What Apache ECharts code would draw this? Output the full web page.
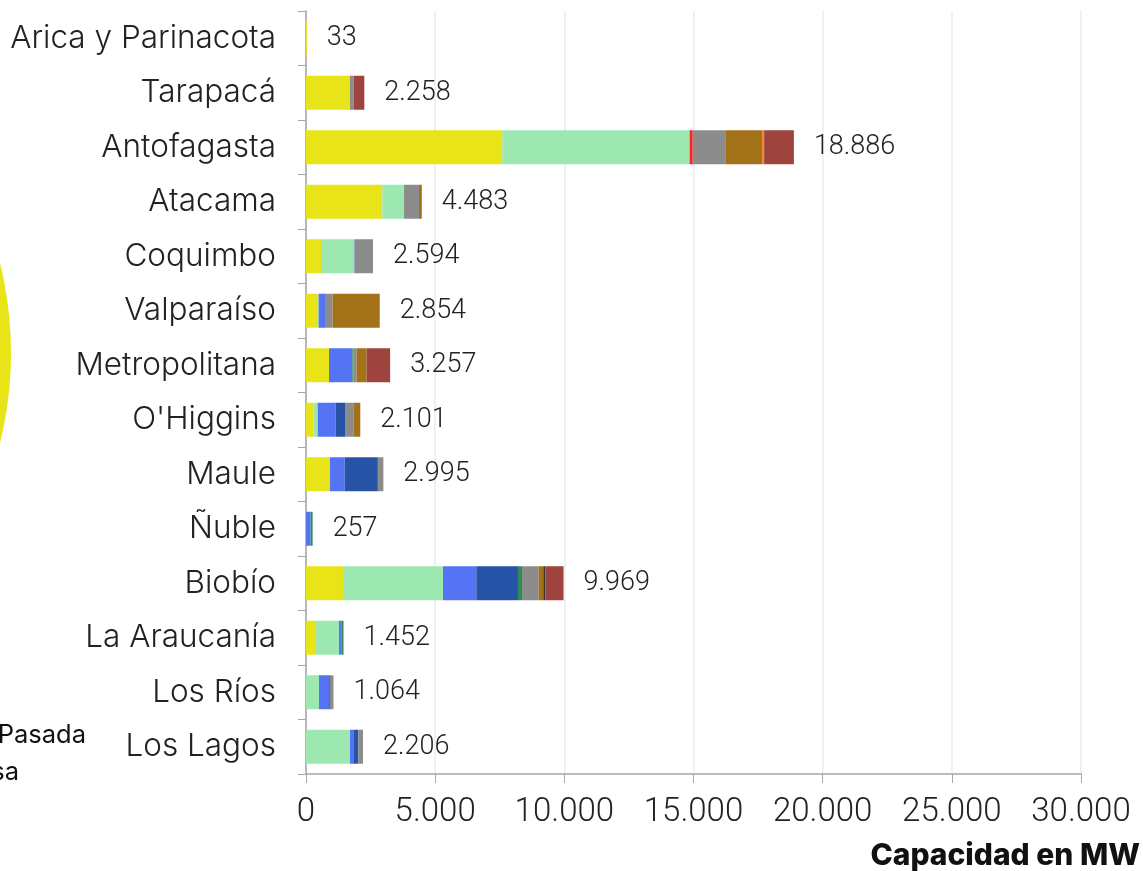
<!DOCTYPE html>
<html>
<head>
<meta charset="utf-8">
<script src="https://cdn.jsdelivr.net/npm/echarts@6/dist/echarts.min.js"></script>
<style>
  html, body { margin: 0; padding: 0; background: #fff; }
  #chart { width: 1143px; height: 871px; }
</style>
</head>
<body>
<div id="chart"></div>
<script>
// Regions, listed north to south
const regions = ['Arica y Parinacota', 'Tarapacá', 'Antofagasta', 'Atacama', 'Coquimbo', 'Valparaíso',
  'Metropolitana', "O'Higgins", 'Maule', 'Ñuble', 'Biobío', 'La Araucanía', 'Los Ríos', 'Los Lagos'];

// Installed capacity by technology (MW)
const solar      = [33, 1700, 7600, 2955, 580, 465, 890, 285, 929, 0, 1432, 348, 0, 0];
const eolica     = [0, 0, 7250, 840, 1280, 25, 0, 168, 0, 0, 3871, 929, 503, 1703];
const pasada     = [0, 0, 0, 0, 20, 245, 903, 697, 568, 180, 1290, 90, 387, 155];
const embalse    = [0, 0, 0, 0, 0, 0, 0, 360, 1251, 0, 1613, 0, 0, 168];
const biomasa    = [0, 0, 0, 0, 0, 0, 50, 0, 39, 77, 155, 85, 40, 0];
const termosolar = [0, 0, 120, 0, 0, 0, 0, 0, 0, 0, 0, 0, 0, 0];
const diesel     = [0, 150, 1260, 580, 714, 295, 115, 323, 208, 0, 645, 0, 134, 180];
const gas        = [0, 0, 1420, 108, 0, 1824, 387, 268, 0, 0, 181, 0, 0, 0];
const geotermia  = [0, 0, 85, 0, 0, 0, 0, 0, 0, 0, 0, 0, 0, 0];
const otros      = [0, 0, 0, 0, 0, 0, 0, 0, 0, 0, 77, 0, 0, 0];
const carbon     = [0, 408, 1151, 0, 0, 0, 912, 0, 0, 0, 705, 0, 0, 0];

// x-axis ticks
const xTicks = [0, 5000, 10000, 15000, 20000, 25000, 30000];

const techs = [
  { name: 'Solar', data: solar, color: '#E8E418' },
  { name: 'Eólica', data: eolica, color: '#9DE8B0' },
  { name: 'Hidráulica de Pasada', data: pasada, color: '#5574F4' },
  { name: 'Hidráulica de Embalse', data: embalse, color: '#2753A6' },
  { name: 'Biomasa', data: biomasa, color: '#2E8B5A' },
  { name: 'Termosolar', data: termosolar, color: '#FF2020' },
  { name: 'Diésel', data: diesel, color: '#8C8C8C' },
  { name: 'Gas Natural', data: gas, color: '#A37118' },
  { name: 'Geotermia', data: geotermia, color: '#F5892A' },
  { name: 'Otros', data: otros, color: '#333333' },
  { name: 'Carbón', data: carbon, color: '#9E433D' }
];

const totals = regions.map((_, i) => techs.reduce((s, t) => s + t.data[i], 0));

const fmt = v => String(v).replace(/\B(?=(\d{3})+(?!\d))/g, '.');

const BAR_W = 34;

const series = techs.map(t => ({
  name: t.name,
  type: 'bar',
  stack: 'cap',
  barWidth: BAR_W,
  data: t.data,
  itemStyle: { color: t.color },
  silent: true
}));

// Invisible overlay carrying the regional total label
series.push({
  name: 'Total',
  type: 'bar',
  barWidth: BAR_W,
  barGap: '-100%',
  data: totals,
  itemStyle: { color: 'rgba(0,0,0,0)' },
  silent: true,
  z: 1,
  label: {
    show: true,
    position: 'right',
    distance: 20,
    formatter: p => fmt(p.value),
    fontFamily: 'Roboto',
    fontWeight: 300,
    fontSize: 27,
    color: '#222'
  }
});

const chart = echarts.init(document.getElementById('chart'));
chart.setOption({
  animation: false,
  backgroundColor: '#fff',
  grid: { left: 306, right: 62, top: 11, bottom: 97, containLabel: false },
  xAxis: {
    type: 'value',
    min: xTicks[0],
    max: xTicks[xTicks.length - 1],
    interval: 5000,
    axisLine: { show: true, lineStyle: { color: '#A6A6A6', width: 1.5 } },
    axisTick: { show: true, length: 9, lineStyle: { color: '#A6A6A6' } },
    splitLine: { show: true, lineStyle: { color: '#EBEBEB', width: 1.5 } },
    axisLabel: {
      margin: 22,
      fontFamily: 'Roboto',
      fontWeight: 300,
      fontSize: 33,
      color: '#222',
      formatter: v => fmt(v)
    }
  },
  yAxis: {
    type: 'category',
    data: regions,
    inverse: true,
    axisLine: { show: true, lineStyle: { color: '#A6A6A6', width: 1.5 } },
    axisTick: { show: true, length: 8, lineStyle: { color: '#A6A6A6' } },
    axisLabel: {
      margin: 30,
      fontFamily: 'Inter',
      fontWeight: 300,
      fontSize: 31.5,
      color: '#222'
    }
  },
  graphic: [
    {
      type: 'circle',
      shape: { cx: -363, cy: 353, r: 374 },
      style: { fill: '#E8E418' },
      silent: true
    },
    {
      type: 'text',
      style: {
        text: 'Hidráulica de Pasada',
        x: 86, y: 735,
        align: 'right', verticalAlign: 'middle',
        fontFamily: 'Inter', fontWeight: 400, fontSize: 25.5, fill: '#111'
      }
    },
    {
      type: 'text',
      style: {
        text: 'Biomasa',
        x: 19, y: 772,
        align: 'right', verticalAlign: 'middle',
        fontFamily: 'Inter', fontWeight: 400, fontSize: 25.5, fill: '#111'
      }
    },
    {
      type: 'text',
      style: {
        text: 'Capacidad en MW',
        x: 1140, y: 856,
        align: 'right', verticalAlign: 'middle',
        fontFamily: 'Inter', fontWeight: 800, fontSize: 30, fill: '#111'
      }
    }
  ],
  series: series
});
</script>
</body>
</html>
